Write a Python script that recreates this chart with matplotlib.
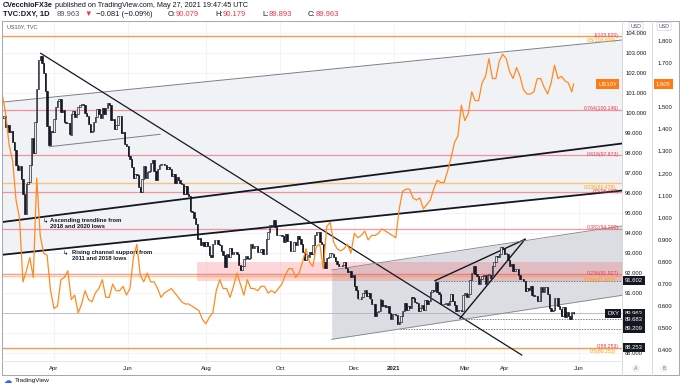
import numpy as np
import pandas as pd
import matplotlib
matplotlib.use("Agg")
import matplotlib.pyplot as plt
from matplotlib.transforms import blended_transform_factory

plt.rcParams['font.family'] = ['Liberation Sans', 'DejaVu Sans']

W, H = 680, 386

# DXY daily closes, business days from 2020-02-19 to 2021-05-27
dxy_close = [
    # Feb 2020
    99.72, 99.85, 99.26, 99.36, 99.03, 99.07, 98.52, 98.13,
    # Mar
    97.36, 97.15, 97.33, 96.68, 95.92, 94.92, 96.42, 96.55, 97.38, 98.73, 98.00,
    99.53, 101.20, 102.64, 102.82, 102.50, 101.97, 101.10, 99.35, 98.36, 99.06, 99.05,
    # Apr
    99.70, 100.30, 100.58, 100.68, 100.05, 100.14, 99.51, 99.50, 99.47, 98.91, 99.93,
    100.09, 99.76, 99.93, 100.28, 100.39, 100.44, 100.38, 100.00, 99.85, 99.45, 99.02,
    # May
    99.06, 99.52, 99.80, 100.19, 99.95, 99.72, 100.24, 99.94, 100.24, 100.48, 100.38,
    99.62, 99.67, 99.17, 99.36, 99.85, 99.84, 98.99, 99.03, 98.45, 98.34,
    # Jun
    97.83, 97.68, 97.29, 96.75, 96.93, 96.90, 96.27, 96.03, 96.70, 97.33, 96.72,
    97.03, 97.08, 97.48, 97.62, 97.10, 96.63, 97.19, 97.37, 97.43, 97.43, 97.39,
    # Jul
    97.17, 97.29, 97.19, 96.85, 96.92, 96.48, 96.78, 96.64, 96.48, 96.42, 95.94, 96.33,
    95.94, 95.82, 95.10, 95.02, 94.74, 94.43, 93.67, 93.74, 93.36, 93.54, 93.35,
    # Aug
    93.52, 93.34, 92.87, 92.80, 93.43, 93.62, 93.65, 93.44, 93.39, 93.10, 92.87,
    92.27, 92.92, 92.79, 93.25, 92.95, 93.01, 93.02, 92.96, 92.37, 92.14,
    # Sep
    92.33, 92.71, 92.82, 92.71, 92.74, 93.44, 93.24, 93.33, 93.33, 93.05, 93.05,
    93.20, 92.95, 92.93, 93.69, 94.05, 94.38, 94.35, 94.64, 94.30, 93.89, 93.89,
    # Oct
    93.87, 93.84, 93.51, 93.96, 93.60, 93.59, 93.06, 93.06, 93.53, 93.39, 93.82,
    93.69, 93.44, 93.05, 92.63, 92.91, 92.77, 93.05, 92.95, 93.40, 93.91, 94.04,
    # Nov
    94.04, 93.53, 93.44, 92.53, 92.23, 92.73, 92.76, 93.00, 92.96, 92.76, 92.58,
    92.44, 92.35, 92.31, 92.37, 92.52, 92.23, 92.01, 92.07, 91.78, 91.87,
    # Dec
    91.31, 91.11, 90.71, 90.70, 90.79, 90.98, 91.11, 90.82, 90.98, 90.71, 90.45, 90.46,
    89.83, 90.02, 90.08, 90.66, 90.34, 90.37, 90.28, 90.34, 89.98, 89.68, 89.94,
    # Jan 2021
    89.94, 89.88, 89.43, 89.53, 89.83, 90.10, 90.47, 90.11, 90.35, 90.23, 90.77,
    90.75, 90.53, 90.48, 90.09, 90.24, 90.38, 90.15, 90.62, 90.45, 90.58,
    # Feb
    91.02, 91.12, 91.10, 91.53, 91.03, 90.95, 90.45, 90.42, 90.43, 90.48,
    90.37, 90.60, 90.93, 90.59, 90.36, 90.09, 90.14, 90.11, 90.08, 90.88,
    # Mar
    91.00, 90.79, 90.93, 91.62, 91.97, 92.34, 91.94, 91.82, 91.42, 91.67, 91.82, 91.87,
    91.44, 91.86, 91.91, 91.73, 92.34, 92.55, 92.81, 92.76, 92.94, 93.29, 93.23,
    # Apr
    92.93, 92.96, 92.62, 92.35, 92.45, 92.06, 92.17, 92.17, 91.86, 91.69, 91.68,
    91.56, 91.07, 91.22, 91.14, 91.34, 90.86, 90.85, 90.81, 90.60, 90.57, 91.28,
    # May
    91.03, 91.27, 91.27, 90.94, 90.22, 90.09, 90.12, 90.73, 90.74, 90.31,
    90.18, 89.84, 90.27, 89.77, 90.02, 89.81, 89.67, 90.04, 89.96,
]

# US10Y yield, every second business day from 2020-02-19, last value on 2021-05-27
us10y = [
    1.56, 1.47, 1.33, 1.26,
    1.08, 1.00, 0.71, 0.76, 0.82, 0.73, 1.18, 0.92, 0.84, 0.83, 0.67,
    0.59, 0.60, 0.72, 0.73, 0.76, 0.63, 0.65, 0.57, 0.61, 0.67, 0.63,
    0.62, 0.66, 0.68, 0.72, 0.64, 0.64, 0.70, 0.67, 0.67, 0.69, 0.65,
    0.68, 0.82, 0.88, 0.74, 0.71, 0.75, 0.71, 0.71, 0.68, 0.64, 0.66,
    0.67, 0.68, 0.66, 0.64, 0.62, 0.61, 0.61, 0.60, 0.59, 0.58, 0.54,
    0.52, 0.55, 0.57, 0.67, 0.72, 0.68, 0.68, 0.64, 0.69, 0.75, 0.70,
    0.65, 0.72, 0.68, 0.68, 0.67, 0.69, 0.69, 0.66, 0.67, 0.66, 0.68,
    0.70, 0.74, 0.77, 0.77, 0.73, 0.75, 0.80, 0.86, 0.80, 0.78, 0.87,
    0.88, 0.77, 0.96, 0.98, 0.89, 0.86, 0.85, 0.86, 0.88, 0.84,
    0.93, 0.91, 0.92, 0.94, 0.90, 0.92, 0.92, 0.93, 0.95, 0.94, 0.93, 0.92,
    0.91, 1.04, 1.12, 1.13, 1.13, 1.09, 1.08, 1.09, 1.04, 1.06,
    1.08, 1.13, 1.17, 1.16, 1.16, 1.21, 1.27, 1.34, 1.37, 1.51,
    1.44, 1.47, 1.57, 1.53, 1.53, 1.61, 1.64, 1.72, 1.63, 1.63, 1.71, 1.74,
    1.72, 1.66, 1.63, 1.68, 1.64, 1.58, 1.56, 1.56, 1.57, 1.63, 1.63,
    1.59, 1.56, 1.61, 1.69, 1.63, 1.64, 1.62, 1.61, 1.57,
]
us10y_last = 1.605

month_ticks = ["2020-04-01", "2020-06-01", "2020-08-03", "2020-10-01", "2020-12-01",
               "2021-01-01", "2021-03-01", "2021-04-01", "2021-06-01"]
month_labels = ["Apr", "Jun", "Aug", "Oct", "Dec", "2021", "Mar", "Apr", "Jun"]

dxy_ticks = list(range(88, 105))
us10y_ticks = [0.4, 0.5, 0.6, 0.7, 0.8, 0.9, 1.0, 1.1, 1.2, 1.3, 1.4, 1.5, 1.6, 1.7, 1.8]

red_fib = [("1", 103.820), ("0.764", 100.146), ("0.618", 97.873), ("0.5", 96.037),
           ("0.382", 94.200), ("0.236", 91.927), ("0", 88.253)]
orange_fib = [("0.5", 103.820), ("0.236", 96.479), ("0.236", 91.827), ("0.5", 88.253)]

dxy_last = 89.963
marked_levels = [91.602, 89.683, 89.209, 88.253]

# drawings (bar index, price)
asc_trend = [(-1.29, 94.52), (359.08, 98.46)]
channel_support = [(-1.29, 92.885), (359.08, 96.105)]
channel_top = [(0.63, 100.535), (359.08, 103.635)]
flag_base = [(27.28, 98.30), (91.41, 98.92)]
down_trend = [(22.29, 102.97), (300.97, 87.885)]
lr_lower = [(190.89, 88.67), (359.08, 90.87)]
lr_upper = [(190.89, 92.135), (359.08, 94.34)]
wedge_top = [(250.74, 91.60), (302.88, 93.67)]
wedge_low = [(265.23, 89.72), (302.88, 93.67)]
dashed_levels = [(250.74, 91.602), (265.23, 89.683), (230.46, 89.209)]
pink_zone = (112.85, 91.602, 92.55)

X0, X1 = 0.45, 359.08
Y0, Y1 = 87.585, 104.585
U0, U1 = 0.352, 1.8905

days = pd.bdate_range("2020-02-19", "2021-07-30")
tick_pos = days.get_indexer(pd.to_datetime(month_ticks))

fig = plt.figure(figsize=(6.8, 3.86), dpi=100)
L, R, T, B = 3, 622, 21, 361
ax = fig.add_axes([L / W, 1 - B / H, (R - L) / W, (B - T) / H])
ax.set_zorder(1)
ax.set_xlim(X0, X1)
ax.set_ylim(Y0, Y1)
ax.set_axisbelow(True)


def line_at(p, q, xs):
    xs = np.asarray(xs, dtype=float)
    return p[1] + (q[1] - p[1]) * (xs - p[0]) / (q[0] - p[0])


xs = np.array([X0 - 5, X1 + 5])
ax.fill_between(xs, line_at(*channel_support, xs), line_at(*channel_top, xs),
                color='#f0f2f6', lw=0, zorder=1)
xs2 = np.array([lr_lower[0][0], X1 + 5])
ax.fill_between(xs2, line_at(*lr_lower, xs2), line_at(*lr_upper, xs2),
                color='#dcdde2', lw=0, zorder=1)
ax.fill_between([pink_zone[0], X1 + 5], pink_zone[1], pink_zone[2],
                color='#f23645', alpha=0.2, lw=0, zorder=1.1)

for name, v in red_fib:
    ax.axhline(v, color='#f23645', alpha=0.5, lw=0.9, zorder=1.5)
for name, v in orange_fib:
    ax.axhline(v, color='#ff9800', alpha=0.5, lw=1.0, zorder=1.5)

ax.axhline(dxy_last, color='#b2b5be', lw=0.6, zorder=1.6)
for x_start, v in dashed_levels:
    ax.plot([x_start, X1 + 5], [v, v], color='#5d606b', lw=0.6,
            dashes=(1.6, 1.6), zorder=1.6)

# trend lines
for seg, lw, c in [(asc_trend, 1.3, '#131722'), (channel_support, 1.3, '#131722'),
                   (channel_top, 0.7, '#7c7f88')]:
    xx = np.array([X0 - 5, X1 + 5])
    ax.plot(xx, line_at(*seg, xx), color=c, lw=lw, zorder=3)
for seg, lw, c in [(flag_base, 0.7, '#7c7f88'), (down_trend, 0.9, '#131722'),
                   (wedge_top, 1.0, '#131722'), (wedge_low, 1.0, '#131722')]:
    ax.plot([seg[0][0], seg[1][0]], [seg[0][1], seg[1][1]], color=c, lw=lw, zorder=3)
for seg in (lr_lower, lr_upper):
    xx = np.array([seg[0][0], X1 + 5])
    ax.plot(xx, line_at(*seg, xx), color='#80838c', lw=0.6, zorder=3)

# candles
closes = np.array(dxy_close)
opens = np.r_[closes[0], closes[:-1]]
xi = np.arange(len(closes))
up = closes >= opens
ax.vlines(xi, np.minimum(opens, closes), np.maximum(opens, closes),
          color='#131722', lw=0.6, zorder=4)
ax.bar(xi[up], (closes - opens)[up], bottom=opens[up], width=0.8, color='#e9eaee',
       edgecolor='#131722', linewidth=0.45, zorder=4)
ax.bar(xi[~up], (closes - opens)[~up], bottom=opens[~up], width=0.8, color='#131722',
       edgecolor='#131722', linewidth=0.45, zorder=4)

# annotations
ax.text(24.8, 94.56, "\u21b3", fontsize=4.5, color='#131722', va='center', ha='center',
        family=['DejaVu Sans'], zorder=5)
ax.text(27.7, 94.46, "Ascending trendline from\n2018 and 2020 lows", fontsize=4.2,
        fontweight='bold', color='#131722', va='center', ha='left', linespacing=1.15, zorder=5)
ax.text(36.66, 92.96, "\u21b3", fontsize=4.5, color='#131722', va='center', ha='center',
        family=['DejaVu Sans'], zorder=5)
ax.text(40.25, 92.85, "Rising channel support from\n2011 and 2018 lows", fontsize=4.2,
        fontweight='bold', color='#131722', va='center', ha='left', linespacing=1.15, zorder=5)

# fib labels
tr = blended_transform_factory(ax.transAxes, ax.transData)
xr = (619 - L) / (R - L)
for name, v in red_fib:
    ax.text(xr, v + 0.04, f"{name}({v:.3f})", transform=tr, fontsize=3.7, color='#f23645',
            ha='right', va='center', zorder=5)
for name, v in orange_fib:
    ax.text(xr - 0.005, v - 0.2, f"{name}({v:.3f})", transform=tr, fontsize=3.7,
            color='#ff9800', ha='right', va='center', zorder=5)

# US10Y overlay (twinx resets the main axis ticks, so style both afterwards)
ax2 = ax.twinx()
ax2.set_zorder(2)
ax2.set_ylim(U0, U1)
ax2.plot(list(range(0, 331, 2)) + [331], us10y + [us10y_last], color='#ff8a1f', lw=0.9)

ax.set_xticks(tick_pos)
ax.set_xticklabels(month_labels)
ax.get_xticklabels()[5].set_fontweight('bold')
ax.tick_params(axis='x', length=0, pad=3.6, labelsize=4.3, colors='#131722')
ax.yaxis.tick_right()
ax.set_yticks(dxy_ticks)
# labels hidden behind the price boxes are left empty
ax.set_yticklabels(["" if v in (89, 90) else f"{v:.3f}" for v in dxy_ticks])
ax.tick_params(axis='y', which='both', left=False, labelleft=False, right=True,
               labelright=True, length=0, pad=2.3, labelsize=4.2, colors='#131722')
ax.grid(color='#f0f3fa', lw=0.6)
for s in ax.spines.values():
    s.set_visible(False)

ax2.set_yticks(us10y_ticks)
ax2.set_yticklabels(["" if abs(v - 1.6) < 1e-9 else f"{v:.3f}" for v in us10y_ticks])
ax2.tick_params(axis='y', length=0, pad=3.8, labelsize=4.2, colors='#131722')
for s in ax2.spines.values():
    s.set_visible(False)
ax2.spines['right'].set_position(('outward', 30 * 0.72))

# price boxes
box = dict(boxstyle='square,pad=0.4', fc='#131722', ec='none')
xb = (625 - L) / (R - L)
for v in [dxy_last] + marked_levels:
    ax.text(xb, v, f"{v:.3f}", transform=tr, fontsize=4.2, color='white', ha='left',
            va='center', bbox=box, clip_on=False, zorder=10)
ax.text((619 - L) / (R - L), dxy_last, "DXY", transform=tr, fontsize=4.2, color='white',
        ha='right', va='center', bbox=box, clip_on=False, zorder=10)
tr2 = blended_transform_factory(ax2.transAxes, ax2.transData)
obox = dict(boxstyle='square,pad=0.4', fc='#ff7a12', ec='none')
ax2.text((656 - L) / (R - L), us10y_last, f"{us10y_last:.3f}", transform=tr2, fontsize=4.2,
         color='white', ha='left', va='center', bbox=obox, clip_on=False, zorder=10)
ax2.text((617 - L) / (R - L), us10y_last, "US10Y", transform=tr2, fontsize=4.2,
         color='white', ha='right', va='center', bbox=obox, clip_on=False, zorder=10)

# frame, header and footer in pixel coordinates
fa = fig.add_axes([0, 0, 1, 1])
fa.set_zorder(3)
fa.set_xlim(0, W)
fa.set_ylim(H, 0)
fa.axis('off')
fa.plot([2, 679, 679, 2, 2], [21, 21, 375, 375, 21], color='#a3a6af', lw=0.7)
fa.plot([622, 622], [21, 375], color='#d1d4dc', lw=0.6)
fa.plot([652, 652], [21, 375], color='#d1d4dc', lw=0.6)
fa.plot([2, 622], [361, 361], color='#e0e3eb', lw=0.6)

fa.text(7, 26.5, "US10Y, TVC", fontsize=4, color='#50535e', va='center', ha='left')
for xc in (636, 664):
    fa.text(xc, 26.5, "USD", fontsize=3.8, color='#50535e', va='center', ha='center',
            bbox=dict(boxstyle='round,pad=0.3', fc='white', ec='#d1d4dc', lw=0.5))
for xc, s in ((636, "A"), (664, "B")):
    fa.text(xc, 368.5, s, fontsize=3.8, color='#787b86', va='center', ha='center',
            bbox=dict(boxstyle='circle,pad=0.3', fc='#f0f3fa', ec='none'))

rend = fig.canvas.get_renderer()


def text_run(parts, x, y, size):
    for s, color, weight, gap in parts:
        x += gap
        t = fa.text(x, y, s, fontsize=size, color=color, fontweight=weight,
                    va='center', ha='left')
        x += t.get_window_extent(rend).width


dark, red = '#131722', '#f23645'
text_run([("CVecchioFX3e", dark, 'bold', 0),
          (" published on TradingView.com, May 27, 2021 19:47:45 UTC", dark, 'normal', 0)],
         3, 5.5, 5.2)
text_run([("TVC:DXY, 1D", dark, 'bold', 0), ("89.963", '#50535e', 'normal', 7),
          ("\u25bc", red, 'normal', 4), ("\u22120.081 (\u22120.09%)", dark, 'normal', 4),
          ("O:", dark, 'normal', 16), ("90.079", red, 'normal', 0),
          ("H:", dark, 'normal', 16), ("90.179", red, 'normal', 0),
          ("L:", dark, 'normal', 16), ("89.893", red, 'normal', 0),
          ("C:", dark, 'normal', 16), ("89.963", red, 'normal', 0)],
         3, 14.5, 5.5)

fa.text(4, 380.5, "\u2601", fontsize=6, color='#2962ff', va='center', ha='left',
        family=['DejaVu Sans'])
fa.text(15, 380.5, "TradingView", fontsize=4.6, color='#131722', va='center', ha='left')

fig.savefig("out.png", dpi=100, facecolor='white')
